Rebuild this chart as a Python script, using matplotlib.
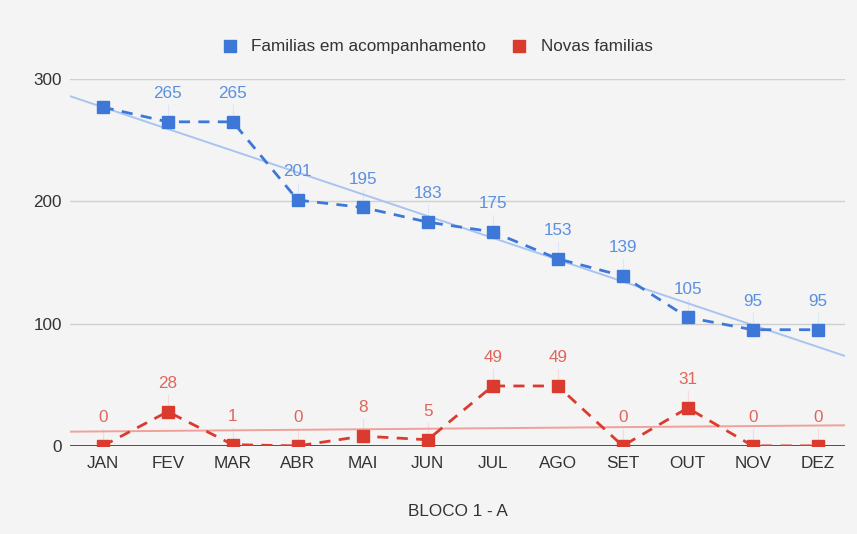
import numpy as np
import matplotlib.pyplot as plt

meses = ["JAN", "FEV", "MAR", "ABR", "MAI", "JUN", "JUL", "AGO", "SET", "OUT", "NOV", "DEZ"]
acompanhamento = [277, 265, 265, 201, 195, 183, 175, 153, 139, 105, 95, 95]
novas = [0, 28, 1, 0, 8, 5, 49, 49, 0, 31, 0, 0]
# JAN label of the blue series is not drawn in the original
rotulos_azul = [None, 265, 265, 201, 195, 183, 175, 153, 139, 105, 95, 95]

AZUL = "#3d78d8"
VERMELHO = "#db3b2f"
AZUL_TXT = "#5b8fe0"
VERM_TXT = "#e0665c"
FUNDO = "#f4f4f4"
FS = 12.3

plt.rcParams["font.family"] = ["Liberation Sans", "DejaVu Sans"]

fig = plt.figure(figsize=(8.57, 5.34), dpi=100, facecolor=FUNDO)
ax = fig.add_axes([0.082, 0.165, 0.904, 0.687], facecolor=FUNDO)

x = np.arange(len(meses))
xlim = (-0.5, 11.42)

# trendlines (linear fit, drawn across the whole chart area)
xt = np.array(xlim)
for serie, cor in ((acompanhamento, "#a9c4f0"), (novas, "#f2a09a")):
    a, b = np.polyfit(x, serie, 1)
    ax.plot(xt, a * xt + b, color=cor, lw=1.4, zorder=2)

ax.plot(x, acompanhamento, ls=(0, (4, 3)), color=AZUL, lw=2, marker="s",
        ms=8, zorder=4, label="Familias em acompanhamento")
ax.plot(x, novas, ls=(0, (4, 3)), color=VERMELHO, lw=2, marker="s",
        ms=8, zorder=4, label="Novas familias")

for xi, v, r in zip(x, acompanhamento, rotulos_azul):
    if r is None:
        continue
    ax.plot([xi, xi], [v, v + 14], color="#dde6f5", lw=0.8, zorder=1)
    ax.text(xi, v + 17, str(r), color=AZUL_TXT, ha="center", va="bottom", fontsize=FS)
for xi, v in zip(x, novas):
    ax.plot([xi, xi], [v, v + 14], color="#f3dcda", lw=0.8, zorder=1)
    ax.text(xi, v + 17, str(v), color=VERM_TXT, ha="center", va="bottom", fontsize=FS)

ax.set_xlim(*xlim)
ax.set_ylim(0, 300)
ax.set_yticks([0, 100, 200, 300])
ax.set_xticks(x)
ax.set_xticklabels(meses)
ax.grid(axis="y", color="#d0d0d0", lw=1)
ax.set_axisbelow(True)
ax.axhline(0, color="#444444", lw=1.3, zorder=3)
for s in ax.spines.values():
    s.set_visible(False)
ax.tick_params(length=0, colors="#333333", labelsize=FS)
ax.tick_params(axis="x", pad=7)
ax.tick_params(axis="y", pad=6)
ax.set_xlabel("BLOCO 1 - A", color="#333333", fontsize=FS, labelpad=24)

leg = ax.legend(loc="lower center", bbox_to_anchor=(0.475, 1.025), ncol=2,
                frameon=False, fontsize=FS, handlelength=0.7,
                columnspacing=1.6, handletextpad=0.9)
for h in leg.legend_handles:
    h.set_linestyle("none")
for t in leg.get_texts():
    t.set_color("#333333")

fig.savefig("out.png", dpi=100, facecolor=FUNDO)
